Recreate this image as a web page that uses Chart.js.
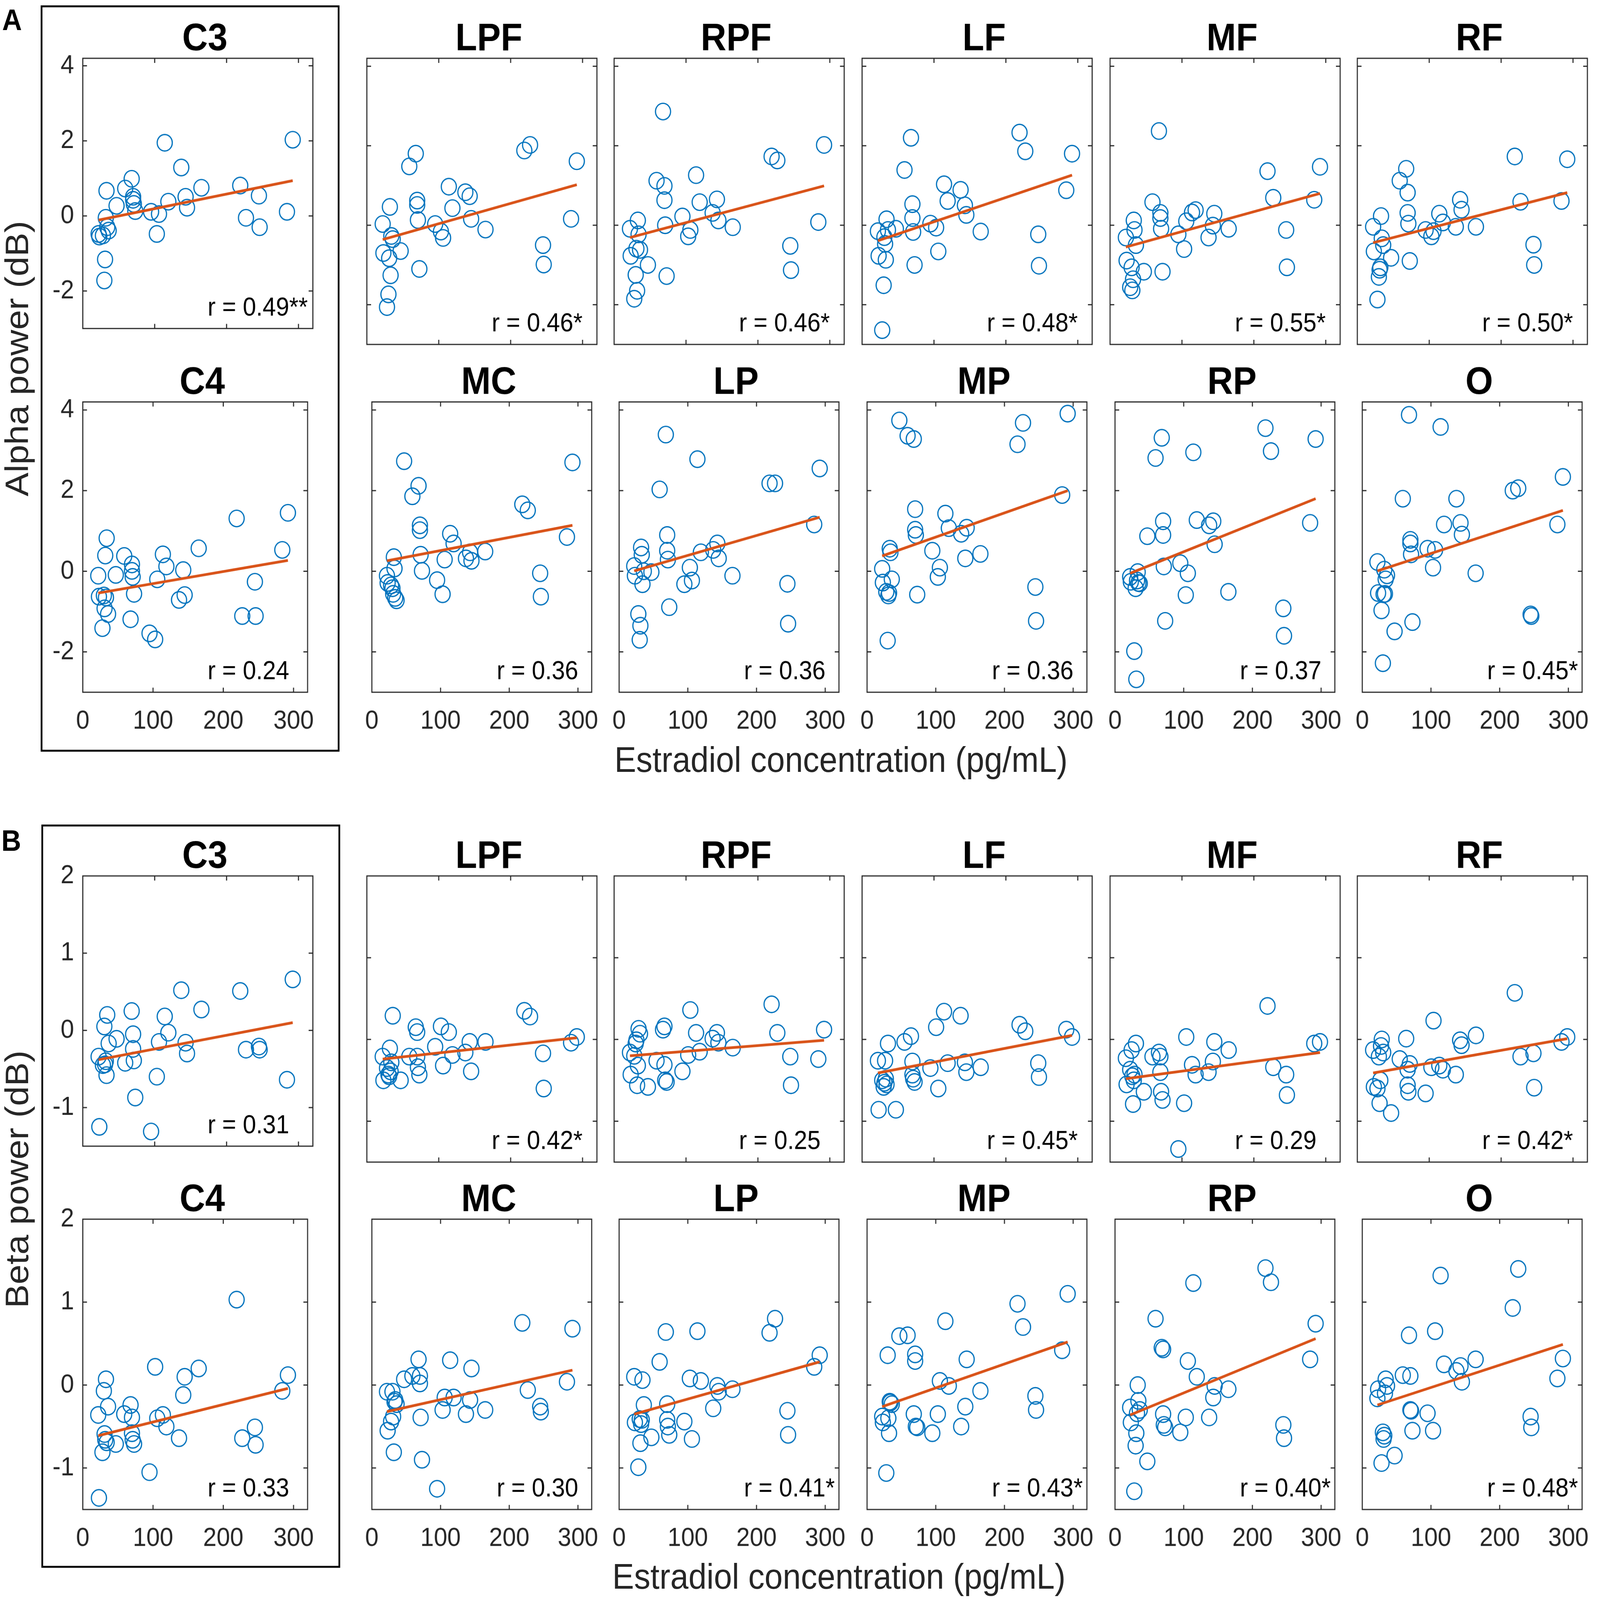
<!DOCTYPE html>
<html><head><meta charset="utf-8">
<script src="https://cdn.jsdelivr.net/npm/chart.js@4.4.1/dist/chart.umd.min.js"></script>
<style>
html,body{margin:0;padding:0;background:#fff;overflow:hidden;}
#page{position:absolute;left:0;top:0;width:4562px;height:4172px;overflow:hidden;background:#fff;font-family:'Liberation Sans',Arial,sans-serif;transform-origin:0 0;}
canvas{position:absolute;}
.box{position:absolute;border:5px solid #000;box-sizing:border-box;}
.lbl{position:absolute;white-space:nowrap;line-height:1;}
</style></head><body><div id="page"></div>
<script>
// ---------- data ----------
const estradiol = [22,23,28,30,31,32,33,34,36,47,59,68,70,70,71,73,95,103,106,114,119,137,143,145,165,219,227,245,246,284,292];
const xTicks = [0,100,200,300];
const alphaTicks = [-2,0,2,4];
const betaTicks = [-1,0,1,2];
const rowNames1 = ['C3','LPF','RPF','LF','MF','RF'];
const rowNames2 = ['C4','MC','LP','MP','RP','O'];

const alphaC3  = [-0.48,-0.55,-0.52,-1.72,-1.16,-0.05,0.67,-0.30,-0.39,0.27,0.73,0.99,0.51,0.43,0.32,0.13,0.11,-0.48,0.05,1.95,0.38,1.29,0.51,0.22,0.75,0.81,-0.05,0.54,-0.30,0.11,2.03];
const alphaLPF = [0.03,-0.70,-2.06,-1.74,-0.83,0.46,-1.26,-0.27,-0.35,-0.65,1.48,1.80,0.62,0.51,0.13,-1.10,0.03,-0.16,-0.32,0.97,0.43,0.83,0.73,0.16,-0.11,1.88,2.02,-0.50,-0.99,0.16,1.61];
const alphaRPF = [-0.09,-0.77,-1.85,-1.25,-0.59,-1.65,0.12,-0.23,-0.62,-1.00,1.12,2.86,0.99,0.63,0.00,-1.28,0.22,-0.28,-0.12,1.26,0.58,0.31,0.65,0.12,-0.05,1.73,1.63,-0.52,-1.13,0.08,2.02];
const alphaLF  = [-0.15,-0.77,-2.64,-1.51,-0.30,-0.47,-0.87,0.15,-0.12,-0.09,1.39,2.20,0.53,0.18,-0.17,-1.00,0.04,-0.06,-0.66,1.03,0.61,0.89,0.50,0.26,-0.16,2.33,1.86,-0.23,-1.02,0.88,1.80];
const alphaMF  = [-0.31,-0.89,-1.56,-1.06,-1.64,-1.36,0.12,-0.12,-0.50,-1.17,0.58,2.37,0.31,0.18,-0.09,-1.17,-0.23,-0.60,0.10,0.32,0.38,-0.31,-0.01,0.29,-0.09,1.36,0.69,-0.12,-1.06,0.64,1.47];
const alphaRF  = [-0.04,-0.66,-1.87,-1.30,-1.12,-1.06,0.23,-0.33,-0.50,-0.82,1.12,1.42,0.82,0.31,0.04,-0.90,-0.12,-0.28,-0.15,0.29,0.07,-0.04,0.64,0.39,-0.04,1.73,0.59,-0.49,-1.00,0.61,1.66];
const alphaC4  = [-0.11,-0.63,-1.41,-0.60,-0.92,0.39,-0.65,0.82,-1.06,-0.09,0.38,-1.19,0.17,0.01,-0.14,-0.56,-1.54,-1.69,-0.20,0.42,0.12,-0.71,0.03,-0.59,0.57,1.31,-1.11,-0.26,-1.11,0.53,1.45];
const alphaMC  = [-0.11,-0.29,-0.35,-0.42,-0.56,0.35,0.07,-0.66,-0.72,2.73,1.86,2.12,1.14,1.02,0.41,0.01,-0.22,-0.57,0.29,0.93,0.69,0.32,0.47,0.26,0.49,1.66,1.51,-0.05,-0.63,0.85,2.70];
const alphaLP  = [0.13,-0.11,-1.06,-1.70,-1.35,0.59,0.41,-0.32,0.00,-0.02,2.03,3.39,0.90,0.51,0.29,-0.89,-0.32,0.09,-0.23,2.78,0.47,0.53,0.69,0.32,-0.11,2.18,2.18,-0.31,-1.30,1.16,2.55];
const alphaMP  = [0.06,-0.28,-0.51,-1.72,-0.60,-0.54,0.56,0.47,-0.20,3.74,3.36,3.28,1.54,1.03,0.90,-0.58,0.51,-0.14,0.09,1.43,1.07,0.93,0.32,1.08,0.43,3.15,3.68,-0.39,-1.23,1.89,3.91];
const alphaRP  = [-0.14,-0.26,-1.98,-0.42,-2.68,-0.23,-0.02,-0.29,-0.30,0.87,2.81,3.31,1.24,0.90,0.12,-1.23,0.20,-0.59,-0.05,2.95,1.27,1.14,1.24,0.67,-0.51,3.55,2.98,-0.92,-1.60,1.20,3.28];
const alphaO   = [0.23,-0.54,-0.97,-2.28,-0.57,0.04,-0.56,-0.20,-0.10,-1.49,1.80,3.88,0.78,0.69,0.42,-1.26,0.56,0.09,0.53,3.58,1.16,1.80,1.20,0.91,-0.05,2.00,2.06,-1.07,-1.11,1.16,2.34];

const betaC3  = [-0.34,-1.25,-0.45,0.05,-0.44,-0.40,-0.58,0.20,-0.17,-0.11,-0.42,0.25,-0.05,-0.24,-0.39,-0.87,-1.31,-0.60,-0.15,0.18,-0.03,0.52,-0.16,-0.30,0.27,0.51,-0.25,-0.21,-0.25,-0.64,0.66];
const betaLPF = [-0.21,-0.50,-0.35,-0.43,-0.45,-0.11,-0.39,-0.28,0.29,-0.50,-0.21,0.15,0.09,-0.21,-0.34,-0.43,-0.09,0.16,-0.32,0.09,-0.19,-0.16,-0.03,-0.39,-0.03,0.35,0.28,-0.17,-0.60,-0.04,0.03];
const betaRPF = [-0.16,-0.43,-0.20,-0.05,-0.01,-0.56,-0.32,0.13,0.07,-0.58,-0.26,0.12,0.16,-0.31,-0.50,-0.52,-0.39,-0.19,0.36,0.08,-0.15,0.01,0.08,-0.04,-0.10,0.43,0.08,-0.21,-0.56,-0.24,0.12];
const betaLF  = [-0.26,-0.86,-0.50,-0.58,-0.53,-0.26,-0.48,-0.55,-0.05,-0.86,-0.03,0.04,-0.27,-0.43,-0.48,-0.52,-0.35,0.15,-0.60,0.34,-0.29,0.29,-0.28,-0.40,-0.34,0.18,0.10,-0.29,-0.46,0.12,0.03];
const betaMF  = [-0.23,-0.55,-0.37,-0.13,-0.45,-0.79,-0.50,-0.43,-0.05,-0.64,-0.21,-0.16,-0.21,-0.40,-0.64,-0.74,-1.34,-0.78,0.03,-0.31,-0.43,-0.40,-0.27,-0.03,-0.13,0.41,-0.34,-0.43,-0.68,-0.05,-0.03];
const betaRF  = [-0.13,-0.58,-0.60,-0.21,-0.78,-0.50,-0.08,0.00,-0.16,-0.90,-0.24,0.01,-0.37,-0.56,-0.64,-0.30,-0.66,-0.34,0.23,-0.32,-0.37,-0.43,-0.01,-0.07,0.05,0.57,-0.21,-0.17,-0.59,-0.03,0.03];
const betaC4  = [-0.36,-1.36,-0.81,-0.07,-0.59,-0.66,0.07,-0.69,-0.26,-0.71,-0.35,-0.24,-0.39,-0.58,-0.66,-0.71,-1.05,0.22,-0.40,-0.36,-0.50,-0.64,-0.12,0.10,0.20,1.03,-0.64,-0.51,-0.72,-0.07,0.12];
const betaMC  = [-0.08,-0.55,-0.44,-0.08,-0.38,-0.81,-0.20,-0.18,-0.23,0.07,0.11,0.31,0.11,0.02,-0.39,-0.90,-1.25,-0.30,-0.15,0.30,-0.15,-0.35,-0.18,0.20,-0.30,0.75,-0.06,-0.26,-0.32,0.04,0.68];
const betaLP  = [0.10,-0.45,-0.99,-0.41,-0.70,-0.47,-0.42,0.06,-0.24,-0.63,0.28,0.64,-0.23,-0.42,-0.50,-0.60,-0.44,0.08,-0.65,0.65,0.05,-0.28,-0.01,-0.08,-0.05,0.63,0.80,-0.31,-0.60,0.22,0.36];
const betaMP  = [-0.38,-0.45,-1.06,0.36,-0.40,-0.58,-0.20,-0.21,-0.23,0.59,0.60,-0.35,0.37,0.29,-0.50,-0.51,-0.58,-0.35,0.05,0.77,-0.01,-0.50,-0.26,0.31,-0.07,0.98,0.70,-0.13,-0.30,0.42,1.10];
const betaRP  = [-0.27,-0.45,-1.28,-0.73,-0.58,-0.34,0.00,-0.19,-0.30,-0.92,0.80,0.45,0.43,-0.35,-0.48,-0.51,-0.57,-0.39,0.29,1.23,0.10,-0.39,-0.15,-0.01,-0.05,1.41,1.24,-0.48,-0.64,0.31,0.74];
const betaO   = [-0.16,-0.05,-0.94,-0.57,-0.65,-0.61,-0.10,0.07,-0.01,-0.85,0.12,0.60,0.11,-0.30,-0.31,-0.55,-0.34,-0.55,0.65,1.32,0.25,0.17,0.23,0.04,0.31,0.93,1.40,-0.38,-0.51,0.08,0.32];

// regression line end values (at lowest / highest estradiol), panel order C3..RF, C4..O
const alphaFitStart = [-0.11,-0.36,-0.31,-0.39,-0.55,-0.44,-0.54,0.26,0.01,0.38,-0.05,0.01];
const alphaFitEnd   = [0.94,1.02,0.99,1.26,0.80,0.82,0.27,1.14,1.34,2.00,1.80,1.51];
const betaFitStart  = [-0.38,-0.24,-0.20,-0.41,-0.48,-0.41,-0.61,-0.32,-0.35,-0.26,-0.36,-0.24];
const betaFitEnd    = [0.10,0.02,-0.01,0.05,-0.16,0.01,-0.04,0.18,0.28,0.52,0.56,0.49];
const alphaR = ['0.49**','0.46*','0.46*','0.48*','0.55*','0.50*','0.24','0.36','0.36','0.36','0.37','0.45*'];
const betaR  = ['0.31','0.42*','0.25','0.45*','0.29','0.42*','0.33','0.30','0.41*','0.43*','0.40*','0.48*'];

const alphaSeries = [alphaC3,alphaLPF,alphaRPF,alphaLF,alphaMF,alphaRF,alphaC4,alphaMC,alphaLP,alphaMP,alphaRP,alphaO];
const betaSeries  = [betaC3,betaLPF,betaRPF,betaLF,betaMF,betaRF,betaC4,betaMC,betaLP,betaMP,betaRP,betaO];

// ---------- layout ----------
const FONT = "'Liberation Sans', Arial, Helvetica, sans-serif";
const page = document.getElementById('page');
function fitPage() {
  const sx = (window.innerWidth || 4562) / 4562;
  const sy = (window.innerHeight || 4172) / 4172;
  page.style.transform = 'scale(' + sx + ',' + sy + ')';
}
fitPage();
window.addEventListener('resize', fitPage);

const colLeft = [236, 1046, 1751, 2458, 3165, 3870];
const plotW = 656, plotH = 757;
const halves = [
  {series: alphaSeries, fitS: alphaFitStart, fitE: alphaFitEnd, r: alphaR, ticks: alphaTicks, min: -3, max: 4.2, rowTop: [152, 1048]},
  {series: betaSeries,  fitS: betaFitStart,  fitE: betaFitEnd,  r: betaR,  ticks: betaTicks,  min: -1.5, max: 2, rowTop: [2284, 3179]}
];

function addText(text, css) {
  const d = document.createElement('div');
  d.className = 'lbl';
  d.textContent = text;
  Object.assign(d.style, css);
  page.appendChild(d);
  return d;
}
function addBox(l, t, w, h) {
  const d = document.createElement('div');
  d.className = 'box';
  Object.assign(d.style, {left: l+'px', top: t+'px', width: w+'px', height: h+'px'});
  page.appendChild(d);
}
addBox(116, 14, 852, 1946);
addBox(118, 2150, 852, 1938);
addText('A', {left:'6px', top:'6px', font:'bold 78px '+FONT, color:'#000'});
addText('B', {left:'4px', top:'2146px', font:'bold 78px '+FONT, color:'#000'});
addText('Alpha power (dB)', {left:'49px', top:'935px', font:'93px '+FONT, color:'#262626', transform:'translate(-50%,-50%) rotate(-90deg)'});
addText('Beta power (dB)', {left:'49px', top:'3075px', font:'93px '+FONT, color:'#262626', transform:'translate(-50%,-50%) rotate(-90deg)'});
addText('Estradiol concentration (pg/mL)', {left:'2398px', top:'1981px', font:'93px '+FONT, color:'#262626', transform:'translate(-50%,-50%)'});
addText('Estradiol concentration (pg/mL)', {left:'2392px', top:'4111px', font:'93px '+FONT, color:'#262626', transform:'translate(-50%,-50%)'});

const xMin = Math.min(...estradiol), xMax = Math.max(...estradiol);

function framePlugin(title, rText, yTicks) {
  return {
    id: 'frame',
    afterDraw(chart) {
      const {ctx, chartArea: a, scales: {x, y}} = chart;
      ctx.save();
      ctx.strokeStyle = '#262626';
      ctx.lineWidth = 3;
      ctx.strokeRect(a.left, a.top, a.right - a.left, a.bottom - a.top);
      ctx.beginPath();
      xTicks.forEach(v => {
        const px = x.getPixelForValue(v);
        if (px <= a.left + 1 || px >= a.right - 1) return;
        ctx.moveTo(px, a.bottom); ctx.lineTo(px, a.bottom - 12);
        ctx.moveTo(px, a.top); ctx.lineTo(px, a.top + 12);
      });
      yTicks.forEach(v => {
        const py = y.getPixelForValue(v);
        if (py <= a.top + 1 || py >= a.bottom - 1) return;
        ctx.moveTo(a.left, py); ctx.lineTo(a.left + 12, py);
        ctx.moveTo(a.right, py); ctx.lineTo(a.right - 12, py);
      });
      ctx.stroke();
      ctx.fillStyle = '#000';
      ctx.textBaseline = 'alphabetic';
      ctx.textAlign = 'center';
      ctx.font = 'bold 101px ' + FONT;
      ctx.fillText(title, (a.left + a.right) / 2 + 20, a.top - 21);
      ctx.textAlign = 'left';
      ctx.font = '68px ' + FONT;
      ctx.fillText('r = ' + rText, a.left + 356, a.bottom - 34);
      ctx.restore();
    }
  };
}

halves.forEach((h) => {
  [rowNames1, rowNames2].forEach((names, r) => {
    names.forEach((name, c) => {
      const idx = r * 6 + c;
      const padL = c === 0 ? 130 : 40;
      const padR = 40;
      const padT = 130;
      const padB = r === 1 ? 115 : 14;
      const cv = document.createElement('canvas');
      const W = padL + plotW + padR, H = padT + plotH + padB;
      cv.width = W; cv.height = H;
      cv.style.width = W + 'px'; cv.style.height = H + 'px';
      cv.style.left = (colLeft[c] - padL) + 'px';
      cv.style.top = (h.rowTop[r] - padT) + 'px';
      page.appendChild(cv);
      const ys = h.series[idx];
      new Chart(cv.getContext('2d'), {
        type: 'scatter',
        data: {
          datasets: [
            {
              type: 'line',
              data: [{x: xMin, y: h.fitS[idx]}, {x: xMax, y: h.fitE[idx]}],
              borderColor: '#D95319', borderWidth: 7, pointRadius: 0, fill: false, tension: 0
            },
            {
              type: 'scatter',
              data: estradiol.map((xv, i) => ({x: xv, y: ys[i]})),
              pointStyle: 'circle', pointRadius: 21.5, pointBorderWidth: 3.4,
              borderColor: '#0072BD', backgroundColor: 'rgba(0,0,0,0)',
              pointBackgroundColor: 'rgba(0,0,0,0)', pointBorderColor: '#0072BD',
              clip: false
            }
          ]
        },
        options: {
          responsive: false, animation: false, devicePixelRatio: 1,
          layout: {padding: {left: 0, top: padT, right: padR, bottom: 0}},
          plugins: {legend: {display: false}, tooltip: {enabled: false}, title: {display: false}},
          events: [],
          scales: {
            x: {
              type: 'linear', min: 0, max: 320,
              afterBuildTicks: s => { s.ticks = xTicks.map(v => ({value: v})); },
              afterFit: s => { s.height = padB; },
              grid: {display: false, drawTicks: false},
              border: {display: false},
              ticks: {display: r === 1, autoSkip: false, maxRotation: 0, padding: 35,
                      color: '#262626', font: {family: FONT, size: 69}}
            },
            y: {
              type: 'linear', min: h.min, max: h.max,
              afterBuildTicks: s => { s.ticks = h.ticks.map(v => ({value: v})); },
              afterFit: s => { s.width = padL; },
              grid: {display: false, drawTicks: false},
              border: {display: false},
              ticks: {display: c === 0, autoSkip: false, padding: 25,
                      color: '#262626', font: {family: FONT, size: 69}}
            }
          }
        },
        plugins: [framePlugin(name, h.r[idx], h.ticks)]
      });
    });
  });
});
</script></body></html>
